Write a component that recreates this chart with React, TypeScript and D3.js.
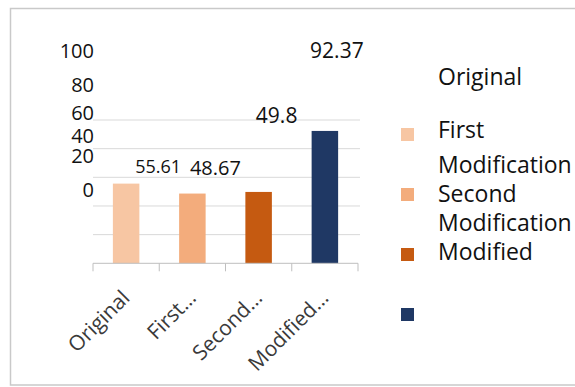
import React, { useEffect, useRef } from "react";
import * as d3 from "d3";

// Scores per version
const categories = ["Original", "First Modification", "Second Modification", "Modified"];
const axisLabels = ["Original", "First…", "Second…", "Modified…"];
const values = [55.61, 48.67, 49.8, 92.37];
const colors = ["#f7c6a3", "#f3ac7c", "#c55a11", "#1f3864"];
const yTicks = [0, 20, 40, 60, 80, 100];
const legendLines = ["Original", "First", "Modification", "Second", "Modification", "Modified"];

// Layout (pixel placement of the loose text blocks)
const W = 575;
const H = 387;
const FONT = "'Open Sans', 'Noto Sans', sans-serif";
const tickLabelBaselines = [197, 163, 143, 120, 92, 58];
const valueLabelDx = [32, 23, 18, 12];
const valueLabelBaselines = [173, 175, 123, 58];
const valueLabelSizes = [18, 20, 21, 21];
const legendLineBaselines = [85, 138, 173, 202, 231, 260];

export default function App() {
  const ref = useRef<SVGSVGElement | null>(null);

  useEffect(() => {
    const svg = d3.select(ref.current);
    svg.selectAll("*").remove();

    // chart frame
    svg.append("rect")
      .attr("x", 10.5).attr("y", 8.5)
      .attr("width", W + 20).attr("height", 376.5)
      .attr("fill", "#fff").attr("stroke", "#c9c9c9").attr("stroke-width", 1.5);

    const x = d3.scaleBand<string>().domain(categories).range([93, 358]).paddingInner(0.6).paddingOuter(0.3);
    const band = d3.scaleBand<string>().domain(categories).range([93, 358]);
    const y = d3.scaleLinear().domain([0, 100]).range([263.3, 120]);

    // gridlines
    svg.append("g").selectAll("line").data(yTicks.filter((t) => t > 0)).join("line")
      .attr("x1", 93).attr("x2", 360)
      .attr("y1", (d) => y(d)).attr("y2", (d) => y(d))
      .attr("stroke", "#d9d9d9").attr("stroke-width", 1);

    // bars
    svg.append("g").selectAll("rect").data(categories).join("rect")
      .attr("x", (d) => x(d)!)
      .attr("width", x.bandwidth())
      .attr("y", (_, i) => y(values[i]))
      .attr("height", (_, i) => y(0) - y(values[i]))
      .attr("fill", (_, i) => colors[i]);

    // category axis
    const xAxis = svg.append("g");
    xAxis.append("line")
      .attr("x1", 93).attr("x2", 358).attr("y1", y(0)).attr("y2", y(0))
      .attr("stroke", "#bfbfbf");
    const edges = [...categories.map((c) => band(c)!), 358];
    xAxis.selectAll("line.tick").data(edges).join("line")
      .attr("class", "tick")
      .attr("x1", (d) => d).attr("x2", (d) => d)
      .attr("y1", y(0)).attr("y2", y(0) + 8)
      .attr("stroke", "#bfbfbf");
    xAxis.selectAll("text").data(axisLabels).join("text")
      .attr("transform", (_, i) => `translate(${x(categories[i])! + x.bandwidth() / 2 + 5},${y(0) + 36}) rotate(-45)`)
      .attr("text-anchor", "end")
      .attr("font-family", FONT).attr("font-size", 21).attr("fill", "#3a3a3a")
      .text((d) => d);

    // value axis labels
    svg.append("g").selectAll("text").data(yTicks).join("text")
      .attr("x", 94)
      .attr("y", (_, i) => tickLabelBaselines[i])
      .attr("text-anchor", "end")
      .attr("font-family", FONT).attr("font-size", 20).attr("fill", "#111")
      .text((d) => d);

    // value labels
    svg.append("g").selectAll("text").data(values).join("text")
      .attr("x", (_, i) => x(categories[i])! + x.bandwidth() / 2 + valueLabelDx[i])
      .attr("y", (_, i) => valueLabelBaselines[i])
      .attr("text-anchor", "middle")
      .attr("font-family", FONT)
      .attr("font-size", (_, i) => valueLabelSizes[i])
      .attr("fill", "#111")
      .text((d) => d);

    // legend
    const legend = svg.append("g");
    legend.selectAll("rect").data(colors).join("rect")
      .attr("x", 401).attr("y", (_, i) => 128 + i * 60)
      .attr("width", 13).attr("height", 13)
      .attr("fill", (d) => d);
    legend.selectAll("text").data(legendLines).join("text")
      .attr("x", 438).attr("y", (_, i) => legendLineBaselines[i])
      .attr("font-family", FONT).attr("font-size", 23).attr("fill", "#111")
      .text((d) => d);
  }, []);

  return (
    <svg ref={ref} width={W} height={H}
      style={{ position: "absolute", left: 0, top: 0, background: "#fff" }} />
  );
}
